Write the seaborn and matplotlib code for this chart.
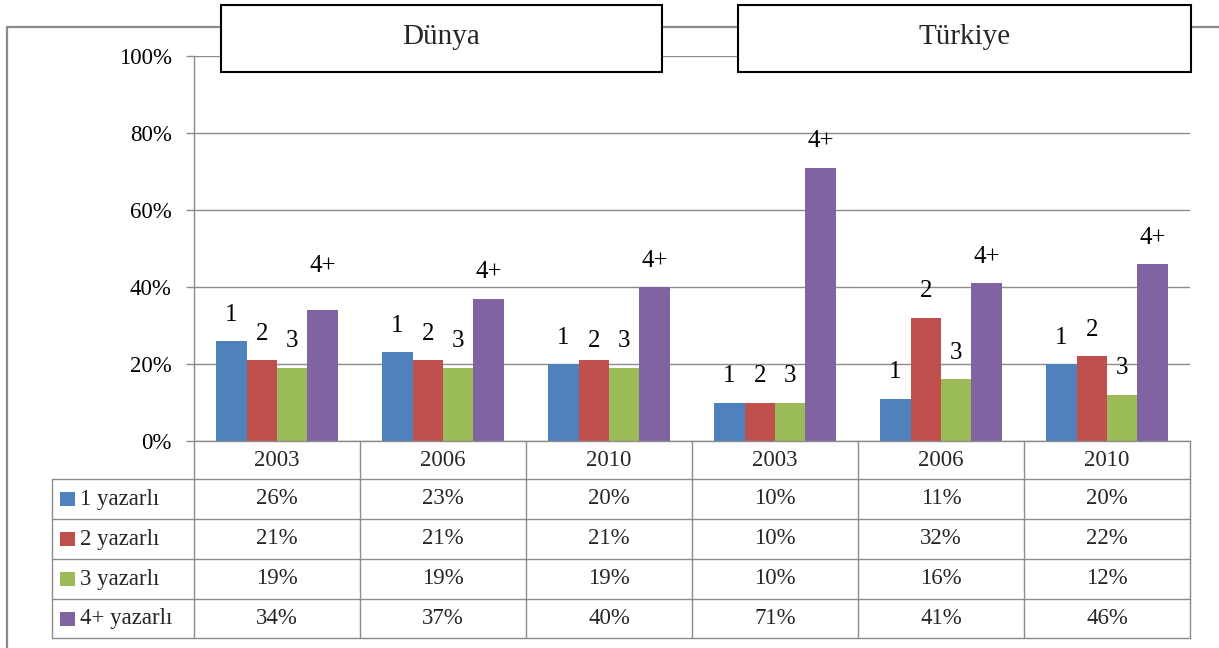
import matplotlib
matplotlib.use("Agg")
import matplotlib.pyplot as plt
import matplotlib.transforms as mtrans
from matplotlib.lines import Line2D
from matplotlib.patches import Rectangle
from matplotlib.ticker import FuncFormatter, MultipleLocator
import seaborn as sns
import pandas as pd
import numpy as np

# ---------------- data ----------------
regions = ["Dünya", "Türkiye"]
years = ["2003", "2006", "2010", "2003", "2006", "2010"]
series_names = ["1 yazarlı", "2 yazarlı", "3 yazarlı", "4+ yazarlı"]
bar_tags = ["1", "2", "3", "4+"]
yazar_1 = [26, 23, 20, 10, 11, 20]
yazar_2 = [21, 21, 21, 10, 32, 22]
yazar_3 = [19, 19, 19, 10, 16, 12]
yazar_4 = [34, 37, 40, 71, 41, 46]
colors = ["#4F81BD", "#C0504D", "#9BBB59", "#8064A2"]

W, H = 1219, 648
GRID = "#8c8c8c"
FS = 16.5

sns.set_theme(style="white")
plt.rcParams["font.family"] = ["Liberation Serif", "DejaVu Serif"]

cat_keys = [f"{regions[i // 3]} {y}" for i, y in enumerate(years)]
series_values = [yazar_1, yazar_2, yazar_3, yazar_4]
df = pd.DataFrame({
    "kategori": cat_keys * len(series_names),
    "seri": np.repeat(series_names, len(years)),
    "deger": yazar_1 + yazar_2 + yazar_3 + yazar_4,
})

fig = plt.figure(figsize=(W / 100, H / 100), dpi=100)
fig.patch.set_facecolor("white")

# pixel transform (origin top-left)
px = mtrans.Affine2D().scale(1 / W, -1 / H).translate(0, 1) + fig.transFigure

L, R, B, T = 194, 1190, 441, 56
ax = fig.add_axes([L / W, 1 - B / H, (R - L) / W, (B - T) / H])
sns.barplot(data=df, x="kategori", y="deger", hue="seri", order=cat_keys,
            hue_order=series_names, palette=colors, width=0.73, saturation=1,
            errorbar=None, legend=False, linewidth=0, ax=ax)

ax.set_xlim(-0.5, len(cat_keys) - 0.5)
ax.set_ylim(0, 100)
ax.yaxis.set_major_locator(MultipleLocator(20))
ax.yaxis.set_major_formatter(FuncFormatter(lambda v, _: f"{v:.0f}%"))
ax.grid(axis="y", color=GRID, lw=1)
ax.grid(axis="x", visible=False)
ax.set_axisbelow(True)
for sp in ["top", "right"]:
    ax.spines[sp].set_visible(False)
for sp in ["left", "bottom"]:
    ax.spines[sp].set_color(GRID)
    ax.spines[sp].set_linewidth(1)
ax.tick_params(axis="y", left=True, length=6, width=1, color=GRID, pad=10,
               labelsize=FS, labelcolor="black")
ax.tick_params(axis="x", bottom=False, labelbottom=False)
ax.set_xlabel("")
ax.set_ylabel("")

# bar tags above bars
lift = {(0, 3): 32, (2, 1): 14}
for s, cont in enumerate(ax.containers):
    for bar in cont.patches:
        xc = bar.get_x() + bar.get_width() / 2
        c = int(round(xc))
        ax.annotate(bar_tags[s], (xc, bar.get_height()),
                    xytext=(0, lift.get((c, s), 19)), textcoords="offset points",
                    ha="center", va="center", fontsize=18, color="black",
                    annotation_clip=False)

# ---------------- data table ----------------
fig.canvas.draw()
col_edges = [ax.transData.transform((i - 0.5, 0))[0] for i in range(len(cat_keys) + 1)]
col_centers = [ax.transData.transform((i, 0))[0] for i in range(len(cat_keys))]

row_lines = [441, 479, 519, 559, 599, 638]
leg_left = 52

def hline(x0, x1, y):
    fig.add_artist(Line2D([x0, x1], [y, y], transform=px, color=GRID, lw=1))

def vline(x, y0, y1):
    fig.add_artist(Line2D([x, x], [y0, y1], transform=px, color=GRID, lw=1))

for y in row_lines[1:]:
    hline(leg_left, col_edges[-1], y)
for xe in col_edges:
    vline(xe, row_lines[0], row_lines[-1])
vline(leg_left, row_lines[1], row_lines[-1])

# header (years)
hy = (row_lines[0] + row_lines[1]) / 2
for xc, yr in zip(col_centers, years):
    fig.text(xc, hy, yr, transform=px, ha="center", va="center", fontsize=FS)

# body rows
for r, (name, vals, col) in enumerate(zip(series_names, series_values, colors)):
    yc = (row_lines[r + 1] + row_lines[r + 2]) / 2
    fig.add_artist(Rectangle((60, yc - 7), 15, 14, transform=px,
                             facecolor=col, edgecolor="none"))
    fig.text(80, yc, name, transform=px, ha="left", va="center", fontsize=FS)
    for xc, v in zip(col_centers, vals):
        fig.text(xc, yc, f"{v:.0f}%", transform=px, ha="center", va="center",
                 fontsize=FS)

# ---------------- outer frame and region boxes ----------------
fig.add_artist(Line2D([7, 7, W], [H, 27, 27], transform=px, color="#8a8a8a",
                      lw=1.6, zorder=1))
boxes = [(221, 662), (738, 1191)]
for (x0, x1), name in zip(boxes, regions):
    fig.add_artist(Rectangle((x0, 5), x1 - x0, 67, transform=px,
                             facecolor="white", edgecolor="black", lw=1.5,
                             zorder=10))
    fig.text((x0 + x1) / 2, 37, name, transform=px, ha="center", va="center",
             fontsize=21, zorder=11)

fig.savefig("out.png", dpi=100, facecolor="white")
